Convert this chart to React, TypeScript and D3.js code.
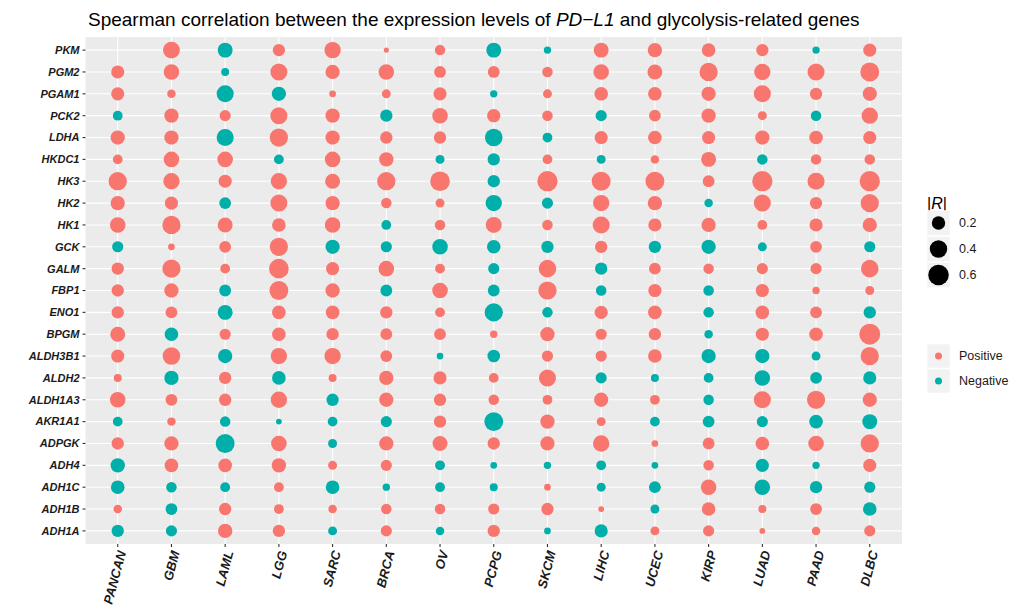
import React from 'react';
import * as d3 from 'd3';

// cancer types along x, genes top to bottom along y
const cancers = ['PANCAN', 'GBM', 'LAML', 'LGG', 'SARC', 'BRCA', 'OV', 'PCPG', 'SKCM', 'LIHC', 'UCEC', 'KIRP', 'LUAD', 'PAAD', 'DLBC'];
const genes = ['PKM', 'PGM2', 'PGAM1', 'PCK2', 'LDHA', 'HKDC1', 'HK3', 'HK2', 'HK1', 'GCK', 'GALM', 'FBP1', 'ENO1', 'BPGM', 'ALDH3B1', 'ALDH2', 'ALDH1A3', 'AKR1A1', 'ADPGK', 'ADH4', 'ADH1C', 'ADH1B', 'ADH1A'];

// Spearman R, one row per gene (same order as genes), null = not available
const rho: (number | null)[][] = [
  [null, 0.37, -0.27, 0.16, 0.34, 0.005, 0.10, -0.27, -0.03, 0.27, 0.24, 0.21, 0.16, -0.03, 0.19],
  [0.19, 0.30, -0.04, 0.38, 0.24, 0.30, 0.14, 0.14, 0.10, 0.30, 0.27, 0.45, 0.34, 0.38, 0.49],
  [0.19, 0.05, -0.38, -0.24, 0.02, 0.06, 0.19, -0.03, 0.06, 0.21, 0.21, 0.24, 0.38, 0.16, 0.24],
  [-0.08, 0.24, 0.12, 0.38, 0.24, -0.16, 0.30, 0.20, 0.10, -0.12, 0.14, 0.24, 0.06, -0.10, 0.34],
  [0.24, 0.24, -0.38, 0.45, 0.24, 0.16, 0.16, -0.41, -0.08, 0.19, 0.21, 0.19, 0.24, 0.21, 0.19],
  [0.08, 0.30, 0.30, -0.08, 0.30, 0.24, -0.06, -0.16, 0.08, -0.06, 0.05, 0.27, -0.10, 0.10, 0.10],
  [0.45, 0.34, 0.19, 0.34, 0.27, 0.45, 0.54, -0.16, 0.58, 0.49, 0.49, 0.14, 0.58, 0.38, 0.58],
  [0.24, 0.19, -0.14, 0.38, 0.24, 0.10, 0.06, -0.34, -0.12, 0.34, 0.24, -0.05, 0.38, 0.16, 0.45],
  [0.30, 0.45, 0.27, 0.21, 0.30, -0.08, 0.10, 0.32, 0.10, 0.38, 0.19, 0.24, 0.08, 0.19, 0.24],
  [-0.12, 0.02, 0.14, 0.45, -0.24, -0.12, -0.30, -0.21, -0.16, 0.16, -0.16, -0.24, -0.06, 0.14, -0.12],
  [0.16, 0.45, 0.08, 0.54, 0.19, 0.30, 0.08, -0.12, 0.41, -0.16, 0.14, 0.10, 0.12, 0.12, 0.41],
  [0.16, 0.24, -0.14, 0.49, 0.24, -0.14, 0.30, -0.14, 0.45, -0.10, 0.19, -0.10, 0.19, 0.03, 0.06],
  [0.16, 0.14, -0.27, 0.21, 0.21, 0.16, 0.08, -0.45, -0.10, 0.19, 0.21, -0.10, 0.21, 0.14, -0.16],
  [0.27, -0.21, 0.12, 0.21, 0.16, 0.14, 0.14, 0.03, 0.24, 0.12, 0.16, -0.05, 0.19, 0.21, 0.63],
  [0.19, 0.41, -0.24, 0.34, 0.34, 0.14, -0.02, -0.17, 0.12, 0.12, 0.21, -0.24, -0.24, -0.06, 0.45],
  [0.04, -0.24, 0.16, -0.21, 0.04, 0.24, 0.19, 0.08, 0.38, -0.12, -0.04, -0.08, -0.30, -0.14, -0.19],
  [0.30, 0.14, 0.16, 0.34, -0.16, 0.24, 0.16, 0.10, 0.08, 0.24, 0.08, -0.10, 0.38, 0.45, 0.24],
  [-0.08, 0.05, -0.10, -0.01, -0.08, -0.12, 0.16, -0.49, 0.24, 0.06, -0.08, -0.14, -0.12, -0.21, -0.27],
  [0.16, 0.24, -0.49, 0.30, -0.06, 0.24, 0.27, 0.16, 0.24, 0.34, 0.02, 0.14, 0.21, 0.30, 0.45],
  [-0.24, 0.21, 0.21, 0.24, 0.06, 0.12, -0.08, -0.02, -0.03, -0.08, -0.02, 0.10, -0.19, -0.03, 0.19],
  [-0.21, -0.10, -0.08, 0.08, -0.21, -0.03, -0.08, -0.04, 0.02, -0.06, -0.14, 0.30, -0.30, -0.16, -0.12],
  [0.05, -0.14, 0.16, 0.08, 0.05, 0.10, 0.10, 0.12, 0.16, 0.01, -0.06, 0.21, 0.04, 0.14, -0.21],
  [-0.16, -0.12, 0.24, 0.16, -0.06, 0.12, -0.05, 0.16, -0.02, -0.19, 0.06, 0.12, 0.01, 0.05, 0.12],
];

const sizeBreaks = [0.2, 0.4, 0.6];
const signLabels = ['Positive', 'Negative'];

const POS = '#F8766D';
const NEG = '#00AFA9';
const FONT = 'Arial, "Liberation Sans", Helvetica, sans-serif';

const App = () => {
  const W = 1019, H = 616;
  const panel = { left: 85.5, right: 902, top: 37, bottom: 544 };

  const x = d3.scalePoint<string>().domain(cancers).range([panel.left, panel.right]).padding(0.6);
  const y = d3.scalePoint<string>().domain(genes).range([panel.top, panel.bottom]).padding(0.6);
  const r = d3.scaleSqrt().domain([0, 0.65]).range([1.8, 10.6]);

  const points: { gene: string; cancer: string; v: number }[] = [];
  genes.forEach((g, i) => {
    cancers.forEach((c, j) => {
      const v = rho[i][j];
      if (v !== null) points.push({ gene: g, cancer: c, v });
    });
  });

  const legX = 927;
  const keyW = 23;

  return (
    <svg width={W} height={H} style={{ position: 'absolute', left: 0, top: 0, background: '#fff' }} fontFamily={FONT}>
      <text x={88} y={26} fontSize={19} fill="#000">
        Spearman correlation between the expression levels of <tspan fontStyle="italic">PD−L1</tspan> and glycolysis-related genes
      </text>

      {/* panel */}
      <rect x={panel.left} y={panel.top} width={panel.right - panel.left} height={panel.bottom - panel.top} fill="#EBEBEB" />
      {cancers.map(c => (
        <line key={c} x1={x(c)} x2={x(c)} y1={panel.top} y2={panel.bottom} stroke="#fff" strokeWidth={1.1} />
      ))}
      {genes.map(g => (
        <line key={g} x1={panel.left} x2={panel.right} y1={y(g)} y2={y(g)} stroke="#fff" strokeWidth={1.1} />
      ))}

      {points.map(p => (
        <circle key={p.gene + p.cancer} cx={x(p.cancer)} cy={y(p.gene)} r={r(Math.abs(p.v))} fill={p.v >= 0 ? POS : NEG} />
      ))}

      {/* y axis */}
      {genes.map(g => (
        <g key={g} transform={`translate(${panel.left},${y(g)})`}>
          <line x1={-3} x2={0} stroke="#333" strokeWidth={1.1} />
          <text x={-6} dy="0.35em" textAnchor="end" fontSize={11} fontWeight="bold" fontStyle="italic" fill="#1a1a1a">{g}</text>
        </g>
      ))}

      {/* x axis */}
      {cancers.map(c => (
        <g key={c} transform={`translate(${x(c)},${panel.bottom})`}>
          <line y1={0} y2={3} stroke="#333" strokeWidth={1.1} />
          <text transform="translate(4,7) rotate(-75)" textAnchor="end" dy="0.35em" fontSize={13} fontWeight="bold" fontStyle="italic" fill="#1a1a1a">{c}</text>
        </g>
      ))}

      {/* size legend */}
      <text x={legX} y={209} fontSize={16} fill="#000">|<tspan fontStyle="italic">R</tspan>|</text>
      {sizeBreaks.map((b, i) => {
        const cy = 223 + i * 26;
        return (
          <g key={b}>
            <rect x={legX} y={cy - 12.5} width={keyW} height={25} fill="#F2F2F2" stroke="#fff" strokeWidth={0.6} />
            <circle cx={legX + keyW / 2} cy={cy} r={r(b)} fill="#000" />
            <text x={959} y={cy} dy="0.35em" fontSize={12.5} fill="#1a1a1a">{b}</text>
          </g>
        );
      })}

      {/* sign legend */}
      {signLabels.map((s, i) => {
        const cy = 356 + i * 25;
        return (
          <g key={s}>
            <rect x={legX} y={cy - 12} width={keyW} height={24} fill="#F2F2F2" stroke="#fff" strokeWidth={0.6} />
            <circle cx={legX + keyW / 2} cy={cy} r={3.5} fill={i === 0 ? POS : NEG} />
            <text x={959} y={cy} dy="0.35em" fontSize={12.5} fill="#1a1a1a">{s}</text>
          </g>
        );
      })}
    </svg>
  );
};

export default App;
